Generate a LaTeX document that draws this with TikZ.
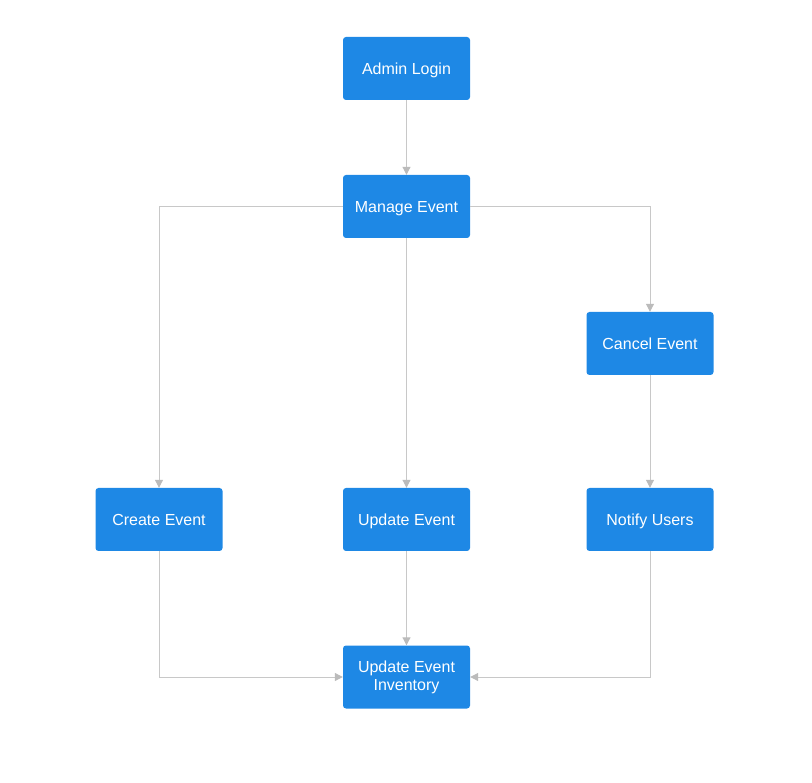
\documentclass[tikz,border=0pt]{standalone}
\usepackage{fontspec}
\setmainfont{Liberation Sans}
\usetikzlibrary{arrows.meta}
\definecolor{boxblue}{HTML}{1E88E5}
\definecolor{linegray}{HTML}{C8C8C8}
\definecolor{tipgray}{HTML}{BBBBBB}
\begin{document}
\begin{tikzpicture}[x=1pt, y=-1pt,
    box/.style={rectangle, rounded corners=3pt, fill=boxblue, text=white, minimum width=127pt, minimum height=63pt, inner sep=0pt, align=center, text height=14pt, text depth=2pt, font=\fontsize{16}{18}\selectfont},
    flow/.style={draw=linegray, line width=1pt, -{Triangle[width=8pt, length=8pt, color=tipgray]}}]
            \useasboundingbox (0, 0) rectangle (812, 783);
            \node[box] (login) at (406.5, 68.5) {Admin Login};
            \node[box] (manage) at (406.5, 206.5) {Manage Event};
            \node[box] (cancel) at (650, 343.5) {Cancel Event};
            \node[box] (create) at (159, 519.5) {Create Event};
            \node[box] (update) at (406.5, 519.5) {Update Event};
            \node[box] (notify) at (650, 519.5) {Notify Users};
            \node[box, text height=, text depth=] (inventory) at (406.5, 677) {Update Event\\Inventory};

            \draw[flow] (login) -- (manage);
            \draw[flow] (manage) -| (create);
            \draw[flow] (manage) -- (update);
            \draw[flow] (manage) -| (cancel);
            \draw[flow] (cancel) -- (notify);
            \draw[flow] (create) |- (inventory);
            \draw[flow] (update) -- (inventory);
            \draw[flow] (notify) |- (inventory);
        \end{tikzpicture}
\end{document}
